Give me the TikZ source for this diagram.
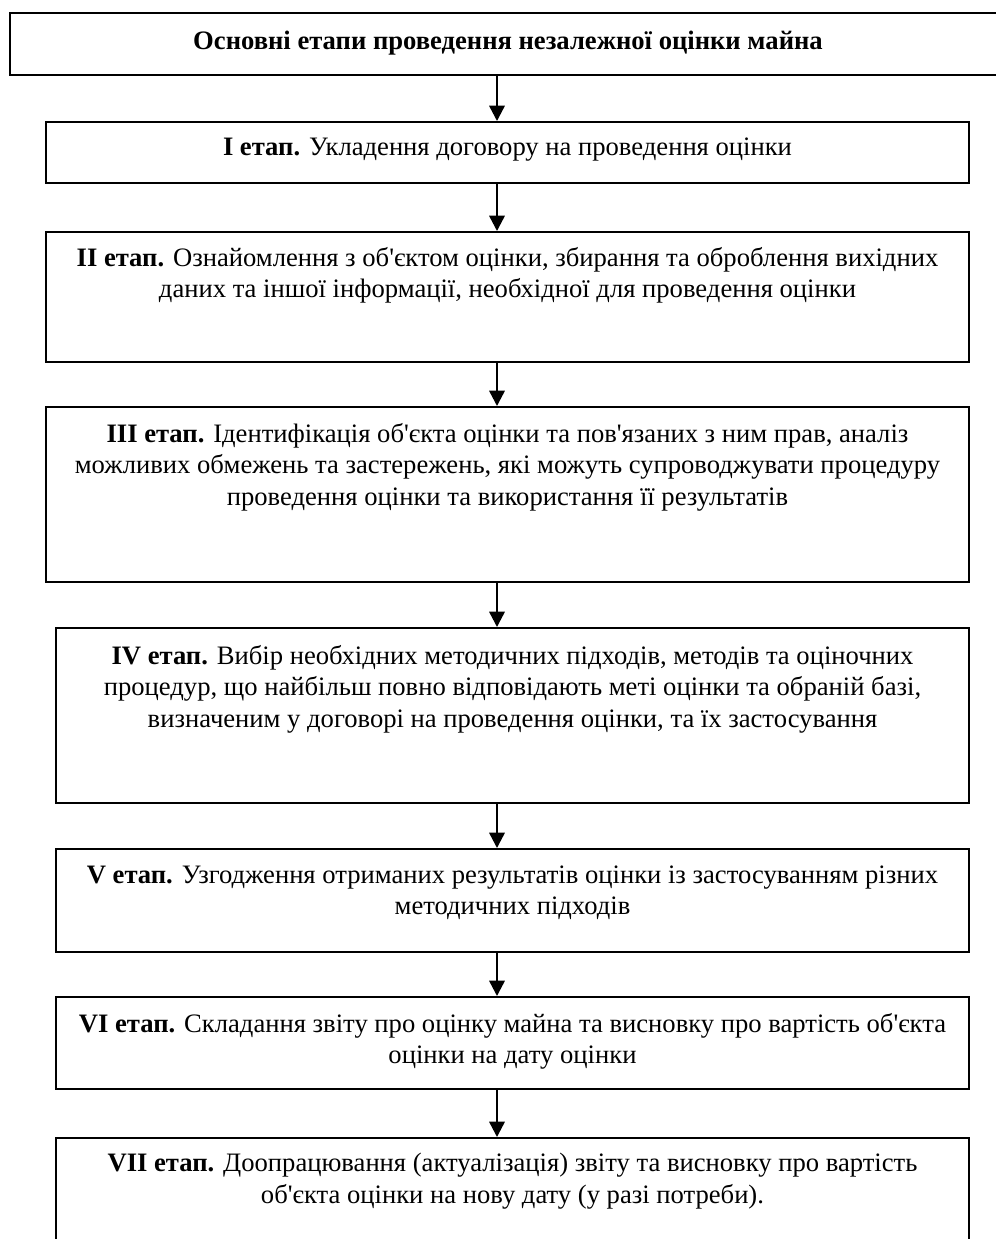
\documentclass[tikz,border=0pt]{standalone}
\usepackage{fontspec}
\setmainfont{Liberation Serif}[Ligatures=TeXOff]
\usetikzlibrary{arrows.meta,fit}

\tikzset{
	stage/.style={draw, line width=1pt, inner sep=0pt},
	stagetext/.style={anchor=north, align=center, inner sep=0pt, font=\fontsize{13.55}{16}\selectfont},
}

\begin{document}
\begin{tikzpicture}[>={Triangle[length=7.8pt,width=7.8pt]}, x=0.509pt, y=-0.509pt]
		\useasboundingbox (0,0) rectangle (996,1239);
		\coordinate (axis) at (497,0);
		
		% frames of the stages
		\node[stage, fit={(10,13) (1000,75)}] (s0) {};
		\node[stage, fit={(46,122) (969,183)}] (s1) {};
		\node[stage, fit={(46,232) (969,362)}] (s2) {};
		\node[stage, fit={(46,407) (969,582)}] (s3) {};
		\node[stage, fit={(56,628) (969,803)}] (s4) {};
		\node[stage, fit={(56,849) (969,952)}] (s5) {};
		\node[stage, fit={(56,997) (969,1089)}] (s6) {};
		\node[stage, fit={(56,1138) (969,1270)}] (s7) {};
		
		% texts
		\node[stagetext] (t0) at (508,31) {\textbf{Основні етапи проведення незалежної оцінки майна}};
		\node[stagetext] (t1) at ([yshift=-16*0.509pt]s1.north) {\textbf{I етап.} Укладення договору на проведення оцінки};
		\node[stagetext] (t2) at ([yshift=-16*0.509pt]s2.north) {\textbf{II етап.} Ознайомлення з об'єктом оцінки, збирання та оброблення вихідних\\даних та іншої інформації, необхідної для проведення оцінки};
		\node[stagetext] (t3) at ([yshift=-17*0.509pt]s3.north) {\textbf{III етап.} Ідентифікація об'єкта оцінки та пов'язаних з ним прав, аналіз\\можливих обмежень та застережень, які можуть супроводжувати процедуру\\проведення оцінки та використання її результатів};
		\node[stagetext] (t4) at ([yshift=-18*0.509pt]s4.north) {\textbf{IV етап.} Вибір необхідних методичних підходів, методів та оціночних\\процедур, що найбільш повно відповідають меті оцінки та обраній базі,\\визначеним у договорі на проведення оцінки, та їх застосування};
		\node[stagetext] (t5) at ([yshift=-17*0.509pt]s5.north) {\textbf{V етап.} Узгодження отриманих результатів оцінки із застосуванням різних\\методичних підходів};
		\node[stagetext] (t6) at ([yshift=-17*0.509pt]s6.north) {\textbf{VI етап.} Складання звіту про оцінку майна та висновку про вартість об'єкта\\оцінки на дату оцінки};
		\node[stagetext] (t7) at ([yshift=-16*0.509pt]s7.north) {\textbf{VII етап.} Доопрацювання (актуалізація) звіту та висновку про вартість\\об'єкта оцінки на нову дату (у разі потреби).};
		
		\foreach \a/\b in {s0/s1,s1/s2,s2/s3,s3/s4,s4/s5,s5/s6,s6/s7}
			\draw[->, line width=1.2pt] (\a.south -| axis) -- (\b.north -| axis);
	\end{tikzpicture}
\end{document}
